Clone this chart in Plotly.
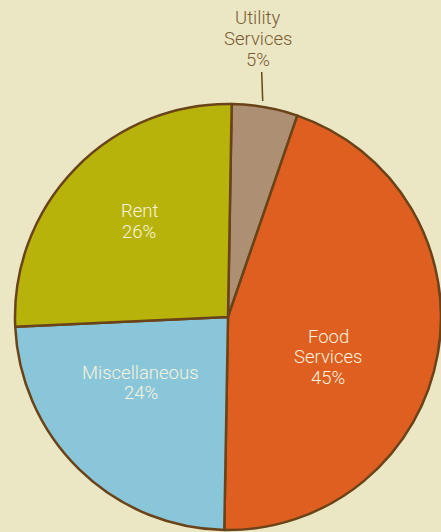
import plotly.graph_objects as go

categories = ["Utility Services", "Food Services", "Miscellaneous", "Rent"]
label_lines = [["Utility", "Services"], ["Food", "Services"], ["Miscellaneous"], ["Rent"]]
values = [5, 45, 24, 26]
colors = ["#AD8F74", "#DF5F21", "#8AC6DA", "#B8B30B"]

BG = "#EBE7C5"
EDGE = "#6A4318"
FONT = "Roboto, Arial, sans-serif"
INSIDE_TXT = "#F8F3DD"
OUTSIDE_TXT = "#7A5A32"

W, H = 441, 532
ML, MR, MT, MB = 15, 0, 104, 2

fig = go.Figure(go.Pie(
    labels=categories,
    values=values,
    sort=False,
    direction="clockwise",
    rotation=1,
    marker=dict(colors=colors, line=dict(color=EDGE, width=2.5)),
    textinfo="none",
    hoverinfo="label+percent",
    showlegend=False,
))

pw, ph = W - ML - MR, H - MT - MB
def px_to_paper(x, y):
    return (x - ML) / pw, (H - MB - y) / ph

# label block centres (pixels) and line spacing
label_centres = [(258, 39), (328, 357), (140.5, 383), (139, 221.5)]
LINE = 20.5
for i, (cx, cy) in enumerate(label_centres):
    lines = label_lines[i] + ["%d%%" % values[i]]
    n = len(lines)
    colr = OUTSIDE_TXT if i == 0 else INSIDE_TXT
    for j, txt in enumerate(lines):
        y = cy + (j - (n - 1) / 2) * LINE
        ax, ay = px_to_paper(cx, y)
        fig.add_annotation(x=ax, y=ay, xref="paper", yref="paper", showarrow=False,
                           xanchor="center", yanchor="middle", text=txt, height=20,
                           font=dict(family=FONT, size=18.5, color=colr, weight=300))

x0, y0 = px_to_paper(261.7, 72)
x1, y1 = px_to_paper(262.7, 101)
fig.add_shape(type="line", xref="paper", yref="paper", x0=x0, y0=y0, x1=x1, y1=y1,
              line=dict(color=EDGE, width=1.5))

fig.update_layout(
    width=W, height=H,
    margin=dict(l=ML, r=MR, t=MT, b=MB),
    paper_bgcolor=BG, plot_bgcolor=BG,
)

fig.write_html("out.html", config={"displayModeBar": False},
               post_script="document.body.style.margin='0';document.body.style.background='%s';" % BG)
